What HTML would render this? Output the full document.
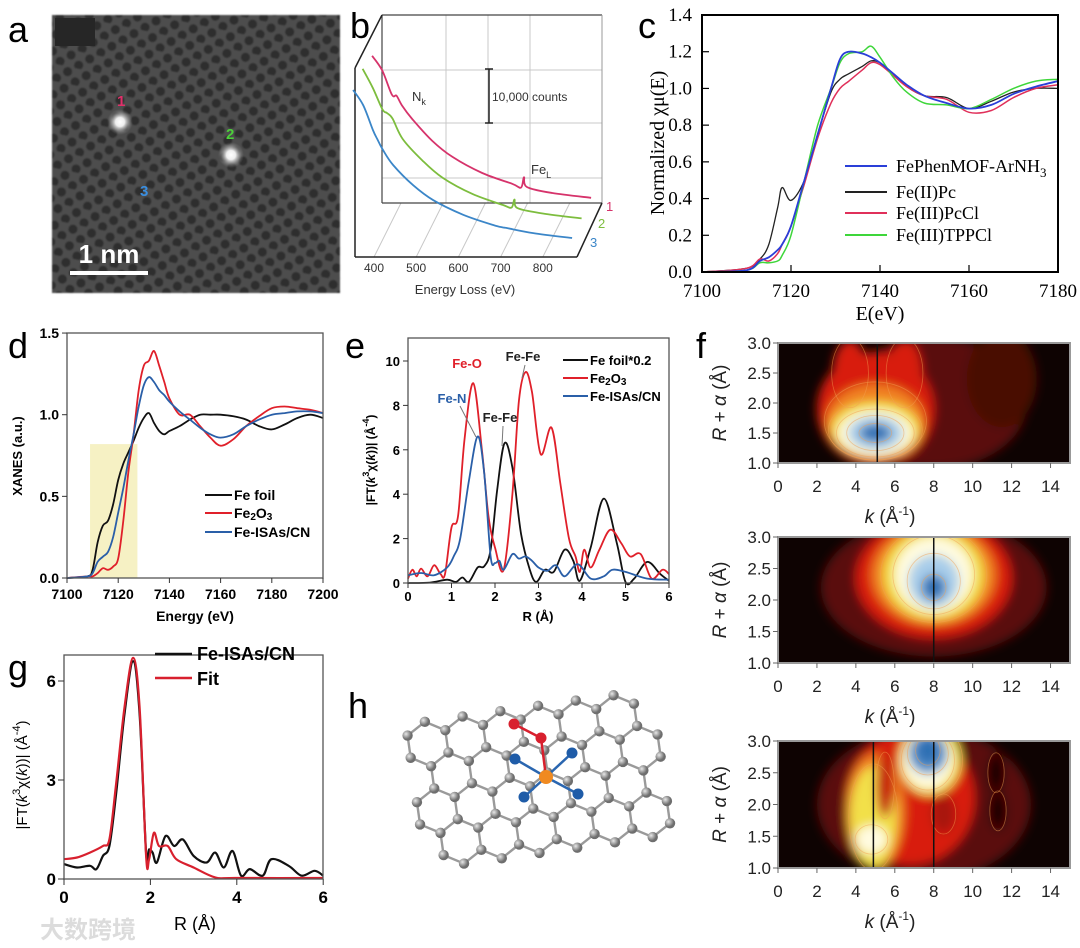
<!DOCTYPE html>
<html><head><meta charset="utf-8">
<style>body{margin:0;background:#fff}svg{display:block}</style>
</head><body>
<svg id="fig" width="1080" height="948" viewBox="0 0 1080 948" xmlns="http://www.w3.org/2000/svg">
<defs>
<pattern id="lat" width="19" height="17" patternUnits="userSpaceOnUse" patternTransform="rotate(12)">
<rect width="19" height="17" fill="#4e4e4e"/>
<circle cx="5" cy="5" r="4.6" fill="#2e2e2e"/>
<circle cx="14.5" cy="13.5" r="4.6" fill="#2e2e2e"/>
</pattern>
<radialGradient id="spot"><stop offset="0" stop-color="#fff"/><stop offset="0.35" stop-color="#eee"/><stop offset="1" stop-color="#888" stop-opacity="0"/></radialGradient>
<radialGradient id="atomG" cx="0.35" cy="0.35"><stop offset="0" stop-color="#e8e8e8"/><stop offset="1" stop-color="#6e6e6e"/></radialGradient>
<filter id="blur" x="-50%" y="-50%" width="200%" height="200%"><feGaussianBlur stdDeviation="5"/></filter>
<filter id="soft"><feGaussianBlur stdDeviation="0.8"/></filter>
</defs>
</svg>
<script>
// ---------- DATA ----------
// panel b (EELS)
const bEnergy = [367, 391, 414, 425, 438, 462, 509, 557, 628, 699, 720, 727, 734, 794, 886];
const bRed    = [26700, 24000, 19500, 19300, 17500, 15000, 11000, 8000, 5000, 3000, 2300, 4200, 2400, 1300, 400];
const bGreen  = [28000, 24500, 20500, 19800, 18800, 15000, 11000, 7800, 4800, 2800, 2300, 3800, 2200, 1200, 300];
const bBlue   = [27400, 24600, 20000, 18200, 16300, 13500, 9800, 7000, 4300, 2400, 2000, 1900, 1800, 900, 0];
const bTicks  = [400, 500, 600, 700, 800];
// panel c (XANES)
const cEnergy = [7100,7110,7113,7115,7117,7118,7120,7123,7126,7129,7131,7133,7136,7138,7140,7143,7146,7150,7155,7160,7165,7170,7175,7180];
const cBlue   = [0,0.01,0.06,0.08,0.12,0.15,0.25,0.5,0.75,1.0,1.16,1.2,1.19,1.17,1.14,1.08,1.02,0.96,0.92,0.89,0.91,0.97,1.01,1.04];
const cBlack  = [0,0.02,0.07,0.15,0.35,0.46,0.39,0.5,0.75,0.98,1.05,1.08,1.12,1.15,1.14,1.08,1.01,0.96,0.95,0.89,0.93,0.98,1.0,1.0];
const cRed    = [0,0.02,0.07,0.06,0.1,0.15,0.25,0.48,0.73,0.92,1.0,1.04,1.1,1.14,1.13,1.07,1.01,0.96,0.94,0.87,0.88,0.95,1.0,1.02];
const cGreen  = [0,0.01,0.05,0.05,0.06,0.09,0.2,0.5,0.8,1.0,1.14,1.19,1.2,1.23,1.17,1.06,0.98,0.92,0.91,0.89,0.94,1.0,1.04,1.05];
const cXTicks = [7100, 7120, 7140, 7160, 7180];
const cYTicks = [0, 0.2, 0.4, 0.6, 0.8, 1.0, 1.2, 1.4];
// panel d
const dEnergy = [7100,7108,7110,7112,7114,7116,7118,7120,7122,7124,7126,7128,7130,7132,7134,7136,7138,7140,7144,7148,7152,7156,7160,7165,7170,7175,7180,7185,7190,7195,7200];
const dFoil   = [0,0.01,0.05,0.22,0.32,0.35,0.45,0.6,0.7,0.77,0.84,0.92,0.98,1.01,0.95,0.9,0.88,0.9,0.93,0.97,1.0,1.0,1.0,0.99,0.97,0.93,0.91,0.94,0.98,1.0,0.98];
const dFe2O3  = [0,0.01,0.01,0.03,0.06,0.05,0.07,0.12,0.35,0.65,0.88,1.15,1.3,1.33,1.39,1.3,1.2,1.1,1.0,1.0,0.93,0.86,0.81,0.85,0.93,0.99,1.04,1.05,1.04,1.03,1.01];
const dISA    = [0,0.01,0.03,0.1,0.13,0.16,0.25,0.4,0.55,0.72,0.88,1.05,1.18,1.23,1.2,1.15,1.12,1.08,1.02,0.97,0.92,0.88,0.86,0.88,0.93,0.97,1.0,1.01,1.02,1.02,1.01];
const dXTicks = [7100, 7120, 7140, 7160, 7180, 7200];
const dYTicks = [0, 0.5, 1.0, 1.5];
// panel e
const eFoilR  = [0,0.5,0.9,1.1,1.25,1.4,1.6,1.75,1.9,2.05,2.22,2.4,2.6,2.8,2.95,3.15,3.35,3.6,3.8,3.95,4.2,4.5,4.8,5.0,5.2,5.5,5.8,6.0];
const eFoil   = [0,0.02,0.15,0.05,0.25,0.05,0.7,0.75,1.5,4.2,6.3,5.2,2.2,0.6,0.05,0.6,0.5,1.5,1.0,0.1,1.6,3.8,1.8,0.05,0.2,0.95,0.4,0.1];
const eOxR    = [0,0.1,0.2,0.3,0.45,0.6,0.75,0.85,1.0,1.15,1.3,1.5,1.7,1.85,2.0,2.2,2.4,2.55,2.7,2.85,3.05,3.3,3.5,3.7,3.85,3.95,4.05,4.2,4.4,4.65,4.9,5.1,5.35,5.6,5.85,6.0];
const eOx     = [0.2,0.6,0.3,0.65,0.3,0.8,0.4,0.4,2.5,3.0,6.5,9.0,6.0,3.0,1.6,0.6,4.0,8.2,9.5,8.6,5.8,7.0,4.5,2.0,1.2,0.5,1.5,0.7,1.5,2.4,1.8,1.2,1.3,0.2,0.6,0.4];
const eIsaR   = [0,0.3,0.6,0.9,1.05,1.2,1.4,1.6,1.75,1.9,2.0,2.1,2.2,2.4,2.55,2.7,2.85,3.0,3.2,3.4,3.6,3.9,4.2,4.5,4.7,5.0,5.5,6.0];
const eIsa    = [0.35,0.45,0.35,0.7,1.2,2.0,4.6,6.6,5.0,1.2,0.9,1.0,0.6,1.3,1.1,1.2,1.0,0.7,0.55,0.8,0.3,0.85,0.2,0.3,0.6,0.5,0.2,0.15];
const eXTicks = [0,1,2,3,4,5,6];
const eYTicks = [0,2,4,6,8,10];
// panel g
const gIsaR   = [0,0.3,0.6,0.75,0.9,1.05,1.2,1.4,1.6,1.75,1.9,1.97,2.05,2.15,2.35,2.55,2.75,3.0,3.3,3.5,3.7,3.9,4.1,4.3,4.6,4.8,5.2,5.5,5.8,6.0];
const gIsa    = [0.45,0.35,0.4,0.3,0.7,1.0,2.5,5.0,6.6,5.0,0.8,0.9,0.8,0.5,1.3,1.0,1.2,0.7,0.5,0.8,0.35,0.85,0.1,0.3,0.1,0.6,0.4,0.1,0.25,0.1];
const gFitR   = [0,0.3,0.6,0.9,1.05,1.2,1.4,1.6,1.75,1.9,1.97,2.08,2.2,2.4,2.6,3.0,3.5,4.0,6.0];
const gFit    = [0.6,0.65,0.8,1.0,1.2,2.8,5.2,6.7,5.2,0.7,0.6,1.4,1.0,1.0,0.6,0.35,0.05,0.03,0.03];
const gXTicks = [0,2,4,6];
const gYTicks = [0,3,6];
// panel f heatmaps
const fKTicks = [0,2,4,6,8,10,12,14];
const fRTicks = [1.0,1.5,2.0,2.5,3.0];
// blobs: k, R, radius-k, radius-R, colour
const f1Blobs = [[8,2.0,4.8,1.1,'#5a0c08'],[11.5,2.4,1.8,0.8,'#4a0906'],[5,1.9,3.0,0.95,'#d81a10'],[3.7,2.5,0.9,0.55,'#d81a10'],[6.5,2.5,0.9,0.55,'#d81a10'],[5,1.7,2.5,0.62,'#f08020'],[5,1.55,2.3,0.48,'#f2e04a'],[5,1.5,1.9,0.38,'#fffbe0'],[5,1.5,1.4,0.28,'#a8cdea'],[5,1.5,0.8,0.15,'#2d6fb4']];
const f2Blobs = [[8,2.2,5.8,1.1,'#5a0c08'],[8,2.35,4.0,0.95,'#d81a10'],[8,2.4,3.2,0.8,'#f08020'],[8,2.4,2.6,0.72,'#f2e04a'],[8,2.4,2.0,0.6,'#fffbe0'],[8,2.3,1.3,0.42,'#a8cdea'],[8,2.2,0.6,0.2,'#2d6fb4']];
const f3Blobs = [[7.5,2.0,5.5,1.2,'#5a0c08'],[6.8,2.1,3.3,1.05,'#d81a10'],[5,1.9,1.5,0.9,'#f08020'],[4.9,1.8,1.2,0.8,'#f2e04a'],[4.8,1.45,0.8,0.22,'#fffbe0'],[7.8,2.7,1.6,0.55,'#f2e04a'],[7.7,2.7,1.3,0.45,'#fffbe0'],[7.7,2.8,1.0,0.32,'#5d97cf'],[7.7,2.85,0.6,0.22,'#2d6fb4'],[5.5,2.3,0.45,0.5,'#c41a10'],[8.5,1.85,0.6,0.3,'#a8180c'],[11.2,2.5,0.4,0.3,'#150302'],[11.3,1.9,0.4,0.3,'#150302']];

// ---------- helpers ----------
const NS = 'http://www.w3.org/2000/svg';
const svg = document.getElementById('fig');
function mk(tag, attrs, parent){
  const e = document.createElementNS(NS, tag);
  for (const k in attrs) e.setAttribute(k, attrs[k]);
  (parent || svg).appendChild(e);
  return e;
}
const SANS = '"Liberation Sans", Arial, sans-serif';
const SERIF = '"Liberation Serif", "Times New Roman", serif';
function T(x, y, html, size, opt, name){
  opt = opt || {};
  const e = mk('text', {x:x, y:y, 'font-size':size, 'font-family':opt.font||SANS, fill:opt.fill||'#000', 'text-anchor':opt.anchor||'start', 'font-weight':opt.weight||'normal'}, opt.parent);
  if (opt.rot) e.setAttribute('transform', 'rotate(' + opt.rot + ' ' + x + ' ' + y + ')');
  e.innerHTML = html;
  
  
  return e;
}
function smooth(pts){
  let d = 'M' + pts[0][0].toFixed(1) + ',' + pts[0][1].toFixed(1);
  for (let i = 0; i < pts.length - 1; i++){
    const p0 = pts[i-1] || pts[i], p1 = pts[i], p2 = pts[i+1], p3 = pts[i+2] || p2;
    const c1 = [p1[0] + (p2[0]-p0[0])/6, p1[1] + (p2[1]-p0[1])/6];
    const c2 = [p2[0] - (p3[0]-p1[0])/6, p2[1] - (p3[1]-p1[1])/6];
    d += 'C' + c1[0].toFixed(1) + ',' + c1[1].toFixed(1) + ' ' + c2[0].toFixed(1) + ',' + c2[1].toFixed(1) + ' ' + p2[0].toFixed(1) + ',' + p2[1].toFixed(1);
  }
  return d;
}
function series(xs, ys, sx, sy, color, w, name){
  const pts = xs.map((x, i) => [sx(x), sy(ys[i])]);
  const p = mk('path', {d:smooth(pts), fill:'none', stroke:color, 'stroke-width':w, 'stroke-linejoin':'round'});
  
  
  return p;
}
function line(x1, y1, x2, y2, color, w, name){
  const l = mk('line', {x1:x1, y1:y1, x2:x2, y2:y2, stroke:color, 'stroke-width':w});
  
  
  return l;
}
function box(x, y, w, h, color, sw, name){
  const r = mk('rect', {x:x, y:y, width:w, height:h, fill:'none', stroke:color, 'stroke-width':sw});
  
  
  return r;
}

// ---------- panel labels ----------
[['a',8,42],['b',350,38],['c',638,38],['d',8,358],['e',345,358],['f',696,358],['g',8,680],['h',348,718]].forEach(l => {
  T(l[1], l[2], l[0], 36, {}, 'panel-label-' + l[0]);
});

// ---------- panel a : STEM image ----------
const aBg = mk('rect', {x:52, y:15, width:288, height:278, fill:'url(#lat)', filter:'url(#soft)'});


const aDark = mk('rect', {x:55, y:18, width:40, height:28, fill:'#262626'});


[[120,122],[231,155]].forEach((s, i) => {
  const c = mk('circle', {cx:s[0], cy:s[1], r:13, fill:'url(#spot)'});
  
  
});
T(117, 106, '1', 15, {fill:'#e0306a', weight:'bold'}, 'atom-label-1');
T(226, 139, '2', 15, {fill:'#4ccf3a', weight:'bold'}, 'atom-label-2');
T(140, 196, '3', 15, {fill:'#3a8ee0', weight:'bold'}, 'atom-label-3');
line(70, 273, 148, 273, '#fff', 4, 'scale-bar');
T(109, 263, '1 nm', 26, {fill:'#fff', weight:'bold', anchor:'middle'}, 'scale-bar-label');

// ---------- panel b : EELS ----------
const bFront = E => 374 + (E - 400) * 0.422;
const bDx = [19, 9.5, 0], bBase = [200, 220, 238];
[70, 123, 178].forEach((y, i) => line(382, y, 602, y, '#c8c8c8', 1, 'b-grid-h-' + i));
[446, 488, 530].forEach((x, i) => line(x, 15, x, 203, '#c8c8c8', 1, 'b-grid-v-' + i));
bTicks.forEach((E, i) => line(bFront(E), 257, bFront(E) + 27, 203, '#c8c8c8', 1, 'b-grid-diag-' + i));
line(382, 15, 602, 15, '#444', 1.2, 'b-top-edge');
line(602, 15, 602, 203, '#999', 1, 'b-right-back-edge');
line(382, 15, 382, 203, '#444', 1.2, 'b-left-back-edge');
line(382, 203, 602, 203, '#444', 1.2, 'b-back-bottom-edge');
line(355, 68, 382, 15, '#222', 1.5, 'b-top-diagonal');
line(355, 68, 355, 257, '#222', 1.5, 'b-front-left-edge');
line(355, 257, 577, 257, '#222', 1.5, 'b-front-bottom-edge');
line(577, 257, 602, 203, '#222', 1.5, 'b-right-diagonal');
const bSeries = [bRed, bGreen, bBlue], bCols = ['#d6336b', '#7dbd3e', '#3b86c8'];
bSeries.forEach((vals, s) => {
  series(bEnergy, vals, E => bFront(E) - 7 + bDx[s], v => bBase[s] - v * 0.0054, bCols[s], 1.8, 'eels-spectrum-' + (s+1));
});
line(489, 69, 489, 123, '#222', 1.5, 'counts-scale-bar');
line(485, 69, 493, 69, '#222', 1.5, 'counts-scale-cap-top');
line(485, 123, 493, 123, '#222', 1.5, 'counts-scale-cap-bottom');
T(492, 101, '10,000 counts', 12, {fill:'#333'}, 'counts-scale-label');
T(412, 101, 'N<tspan font-size="9" dy="4">k</tspan>', 13, {fill:'#333'}, 'n-k-edge-label');
T(531, 174, 'Fe<tspan font-size="9" dy="4">L</tspan>', 13, {fill:'#333'}, 'fe-l-edge-label');
T(606, 211, '1', 13, {fill:bCols[0]}, 'spectrum-label-1');
T(598, 228, '2', 13, {fill:bCols[1]}, 'spectrum-label-2');
T(590, 247, '3', 13, {fill:bCols[2]}, 'spectrum-label-3');
bTicks.forEach(E => T(bFront(E), 272, String(E), 12, {anchor:'middle', fill:'#333'}, 'b-x-tick-' + E));
T(465, 294, 'Energy Loss (eV)', 13, {anchor:'middle', fill:'#333'}, 'b-x-axis-title');

// ---------- panel c ----------
const cx = x => 702 + (x - 7100) * (356/80), cy = y => 272 - y * (257/1.4);
series(cEnergy, cBlack, cx, cy, '#222', 1.3, 'c-line-fe-ii-pc');
series(cEnergy, cRed, cx, cy, '#e0305a', 1.5, 'c-line-fe-iii-pccl');
series(cEnergy, cGreen, cx, cy, '#3ed63a', 1.5, 'c-line-fe-iii-tppcl');
series(cEnergy, cBlue, cx, cy, '#2a3fd8', 1.8, 'c-line-fephenmof');
box(702, 15, 356, 257, '#000', 2, 'c-plot-frame');
cYTicks.forEach(v => { line(702, cy(v), 709, cy(v), '#000', 1.2, 'c-y-tickmark'); T(692, cy(v) + 6, v.toFixed(1), 19, {anchor:'end', font:SERIF}, 'c-y-tick-' + v); });
cXTicks.forEach(v => { line(cx(v), 272, cx(v), 265, '#000', 1.2, 'c-x-tickmark'); T(cx(v), 297, String(v), 19, {anchor:'middle', font:SERIF}, 'c-x-tick-' + v); });
T(880, 320, 'E(eV)', 20, {anchor:'middle', font:SERIF}, 'c-x-axis-title');
T(664, 143, 'Normalized χμ(E)', 20, {anchor:'middle', font:SERIF, rot:-90}, 'c-y-axis-title');
[['FePhenMOF-ArNH<tspan font-size="13" dy="5">3</tspan>','#2a3fd8',166,'legend-fephenmof'],['Fe(II)Pc','#222',192,'legend-fe-ii-pc'],['Fe(III)PcCl','#e0305a',213,'legend-fe-iii-pccl'],['Fe(III)TPPCl','#3ed63a',235,'legend-fe-iii-tppcl']].forEach(l => {
  line(845, l[2], 887, l[2], l[1], 2, l[3] + '-swatch');
  T(896, l[2] + 6, l[0], 18, {font:SERIF}, l[3]);
});

// ---------- panel d ----------
const dx = x => 67 + (x - 7100) * 2.56, dy = y => 578 - y * 163.3;
const hl = mk('rect', {x:dx(7109), y:dy(0.82), width:dx(7127.5)-dx(7109), height:dy(0)-dy(0.82), fill:'#f6f1c4'});


series(dEnergy, dFoil, dx, dy, '#111', 1.8, 'd-line-fe-foil');
series(dEnergy, dFe2O3, dx, dy, '#e0202a', 1.8, 'd-line-fe2o3');
series(dEnergy, dISA, dx, dy, '#2a5fa8', 1.8, 'd-line-fe-isas');
box(67, 333, 256, 245, '#555', 1.3, 'd-plot-frame');
dYTicks.forEach(v => { line(62, dy(v), 67, dy(v), '#333', 1, 'd-y-tickmark'); T(59, dy(v) + 5, v.toFixed(1), 14, {anchor:'end', weight:'bold'}, 'd-y-tick-' + v); });
dXTicks.forEach(v => { line(dx(v), 578, dx(v), 583, '#333', 1, 'd-x-tickmark'); T(dx(v), 599, String(v), 14, {anchor:'middle', weight:'bold'}, 'd-x-tick-' + v); });
T(195, 621, 'Energy (eV)', 14, {anchor:'middle', weight:'bold'}, 'd-x-axis-title');
T(22, 456, 'XANES (a.u.)', 13, {anchor:'middle', weight:'bold', rot:-90}, 'd-y-axis-title');
[['Fe foil','#111',495,'legend-fe-foil'],['Fe<tspan font-size="10" dy="2">2</tspan><tspan dy="-2">O</tspan><tspan font-size="10" dy="2">3</tspan>','#e0202a',513,'legend-fe2o3'],['Fe-ISAs/CN','#2a5fa8',532,'legend-fe-isas']].forEach(l => {
  line(205, l[2], 232, l[2], l[1], 2, l[3] + '-swatch');
  T(234, l[2] + 5, l[0], 14, {weight:'bold'}, l[3]);
});

// ---------- panel e ----------
const ex = r => 408 + r * 43.5, ey = v => 583 - v * 22.2;
series(eFoilR, eFoil, ex, ey, '#111', 1.8, 'e-line-fe-foil');
series(eOxR, eOx, ex, ey, '#e0202a', 1.8, 'e-line-fe2o3');
series(eIsaR, eIsa, ex, ey, '#2a5fa8', 1.8, 'e-line-fe-isas');
box(408, 338, 261, 245, '#555', 1.3, 'e-plot-frame');
eYTicks.forEach(v => { line(403, ey(v), 408, ey(v), '#333', 1, 'e-y-tickmark'); T(400, ey(v) + 5, String(v), 13, {anchor:'end', weight:'bold'}, 'e-y-tick-' + v); });
eXTicks.forEach(v => { line(ex(v), 583, ex(v), 588, '#333', 1, 'e-x-tickmark'); T(ex(v), 601, String(v), 13, {anchor:'middle', weight:'bold'}, 'e-x-tick-' + v); });
T(538, 621, 'R (Å)', 13, {anchor:'middle', weight:'bold'}, 'e-x-axis-title');
T(375, 460, '|FT(<tspan font-style="italic">k</tspan><tspan font-size="9" dy="-6">3</tspan><tspan dy="6">χ(</tspan><tspan font-style="italic">k</tspan>))| (Å<tspan font-size="9" dy="-6">-4</tspan><tspan dy="6">)</tspan>', 12, {anchor:'middle', weight:'bold', rot:-90}, 'e-y-axis-title');
T(467, 368, 'Fe-O', 13, {anchor:'middle', weight:'bold', fill:'#e0202a'}, 'annotation-fe-o');
T(523, 361, 'Fe-Fe', 13, {anchor:'middle', weight:'bold', fill:'#222'}, 'annotation-fe-fe-oxide');
T(452, 403, 'Fe-N', 13, {anchor:'middle', weight:'bold', fill:'#2a5fa8'}, 'annotation-fe-n');
T(500, 422, 'Fe-Fe', 13, {anchor:'middle', weight:'bold', fill:'#222'}, 'annotation-fe-fe-foil');
line(460, 406, 476, 437, '#777', 1, 'annotation-fe-n-pointer');
line(503, 426, 502, 446, '#777', 1, 'annotation-fe-fe-pointer');
line(525, 365, 522, 378, '#777', 1, 'annotation-fe-fe-top-pointer');
[['Fe foil*0.2','#111',360,'legend-e-fe-foil'],['Fe<tspan font-size="10" dy="2">2</tspan><tspan dy="-2">O</tspan><tspan font-size="10" dy="2">3</tspan>','#e0202a',378,'legend-e-fe2o3'],['Fe-ISAs/CN','#2a5fa8',396,'legend-e-fe-isas']].forEach(l => {
  line(563, l[2], 588, l[2], l[1], 2, l[3] + '-swatch');
  T(590, l[2] + 5, l[0], 13, {weight:'bold'}, l[3]);
});

// ---------- panel g ----------
const gx = r => 64 + r * 43.2, gy = v => 879 - v * 33;
series(gIsaR, gIsa, gx, gy, '#111', 2.2, 'g-line-fe-isas');
series(gFitR, gFit, gx, gy, '#d8202e', 2.2, 'g-line-fit');
box(64, 655, 259, 224, '#555', 1.3, 'g-plot-frame');
gYTicks.forEach(v => { line(58, gy(v), 64, gy(v), '#333', 1, 'g-y-tickmark'); T(56, gy(v) + 6, String(v), 17, {anchor:'end', weight:'bold'}, 'g-y-tick-' + v); });
gXTicks.forEach(v => { line(gx(v), 879, gx(v), 885, '#333', 1, 'g-x-tickmark'); T(gx(v), 903, String(v), 17, {anchor:'middle', weight:'bold'}, 'g-x-tick-' + v); });
T(195, 930, 'R (Å)', 18, {anchor:'middle'}, 'g-x-axis-title');
T(27, 775, '|FT(<tspan font-style="italic">k</tspan><tspan font-size="11" dy="-7">3</tspan><tspan dy="7">χ(</tspan><tspan font-style="italic">k</tspan>))| (Å<tspan font-size="11" dy="-7">-4</tspan><tspan dy="7">)</tspan>', 15, {anchor:'middle', rot:-90}, 'g-y-axis-title');
line(155, 654, 192, 654, '#111', 2.5, 'legend-g-fe-isas-swatch');
T(197, 660, 'Fe-ISAs/CN', 18, {weight:'bold'}, 'legend-g-fe-isas');
line(155, 678, 192, 678, '#d8202e', 2.5, 'legend-g-fit-swatch');
T(197, 685, 'Fit', 18, {weight:'bold'}, 'legend-g-fit');
T(40, 938, '大数跨境', 24, {font:'"Liberation Sans", "Noto Sans CJK SC", sans-serif', fill:'#dcdcdc', weight:'bold'}, 'watermark');

// ---------- panel f : wavelet heatmaps ----------
function heat(y0, y1, blobs, vlines, idx){
  const X0 = 778, X1 = 1070;
  const kx = k => X0 + k * (X1 - X0) / 15;
  const ry = r => y1 - (r - 1) * (y1 - y0) / 2;
  const g = mk('g', {});
  
  
  const cp = mk('clipPath', {id:'clip' + idx}, g);
  mk('rect', {x:X0, y:y0, width:X1 - X0, height:y1 - y0}, cp);
  const inner = mk('g', {'clip-path':'url(#clip' + idx + ')'}, g);
  const bg = mk('rect', {x:X0, y:y0, width:X1 - X0, height:y1 - y0, fill:'#0e0302'}, inner);
  
  
  const bl = mk('g', {filter:'url(#blur)'}, inner);
  blobs.forEach(b => {
    const e = mk('ellipse', {cx:kx(b[0]), cy:ry(b[1]), rx:b[2] * (X1 - X0) / 15, ry:b[3] * (y1 - y0) / 2, fill:b[4]}, bl);
    
    
  });
  blobs.slice(3).forEach(b => {
    const c = mk('ellipse', {cx:kx(b[0]), cy:ry(b[1]), rx:b[2] * (X1 - X0) / 15 * 1.05, ry:b[3] * (y1 - y0) / 2 * 1.05, fill:'none', stroke:'#f4a050', 'stroke-width':0.8, opacity:0.5}, inner);
    
    
  });
  vlines.forEach(k => {
    const l = mk('line', {x1:kx(k), y1:y0, x2:kx(k), y2:y1, stroke:'#111', 'stroke-width':1.5}, inner);
    
    
  });
  const fr = mk('rect', {x:X0, y:y0, width:X1 - X0, height:y1 - y0, fill:'none', stroke:'#999', 'stroke-width':2}, g);
  
  
  fRTicks.forEach(r => { line(X0 - 5, ry(r), X0, ry(r), '#666', 1, 'f-y-tickmark'); T(X0 - 7, ry(r) + 6, r.toFixed(1), 17, {anchor:'end', fill:'#222'}, 'f' + idx + '-y-tick-' + r); });
  fKTicks.forEach(k => { line(kx(k), y1, kx(k), y1 + 5, '#666', 1, 'f-x-tickmark'); T(kx(k), y1 + 29, String(k), 17, {anchor:'middle', fill:'#222'}, 'f' + idx + '-x-tick-' + k); });
  T(890, y1 + 60, '<tspan font-style="italic">k</tspan>  (Å<tspan font-size="12" dy="-8">-1</tspan><tspan dy="8">)</tspan>', 19, {anchor:'middle', fill:'#222'}, 'f' + idx + '-x-axis-title');
  T(726, (y0 + y1) / 2, '<tspan font-style="italic">R</tspan> + <tspan font-style="italic">α</tspan> (Å)', 19, {anchor:'middle', fill:'#222', rot:-90}, 'f' + idx + '-y-axis-title');
}
heat(343, 463, f1Blobs, [5.1], 1);
heat(537, 663, f2Blobs, [8.0], 2);
heat(741, 868, f3Blobs, [4.9, 8.0], 3);

// ---------- panel h : structure ----------
(function(){
  const a = 22, s3 = Math.sqrt(3);
  const ang = -8 * Math.PI / 180, sy = 1.02, ox = 428, oy = 744;
  const tf = (x, y) => { y *= sy; return [ox + x * Math.cos(ang) - y * Math.sin(ang), oy + x * Math.sin(ang) + y * Math.cos(ang)]; };
  const atoms = new Map();
  for (let j = 0; j < 4; j++){
    for (let i = 0; i < 6; i++){
      const ii = i - Math.floor(j / 2);
      const cxh = ii * s3 * a + j * s3 * a / 2, cyh = j * 1.5 * a;
      for (let v = 0; v < 6; v++){
        const t = (30 + 60 * v) * Math.PI / 180;
        const x = cxh + a * Math.cos(t), y = cyh + a * Math.sin(t);
        atoms.set(Math.round(x) + ',' + Math.round(y), [x, y]);
      }
    }
  }
  const pts = [...atoms.values()];
  const bg = mk('g', {});
  
  
  for (let p = 0; p < pts.length; p++) for (let q = p + 1; q < pts.length; q++){
    const d = Math.hypot(pts[p][0] - pts[q][0], pts[p][1] - pts[q][1]);
    if (d < a * 1.05){
      const A = tf(pts[p][0], pts[p][1]), B = tf(pts[q][0], pts[q][1]);
      const l = mk('line', {x1:A[0], y1:A[1], x2:B[0], y2:B[1], stroke:'#9a9a9a', 'stroke-width':2.4}, bg);
      
      
    }
  }
  pts.forEach(p => {
    const A = tf(p[0], p[1]);
    const c = mk('circle', {cx:A[0], cy:A[1], r:5.2, fill:'url(#atomG)'}, bg);
    
    
  });
  const fe = [546, 777];
  const ns = [[515, 759], [572, 753], [524, 797], [578, 794]];
  ns.forEach(n => line(fe[0], fe[1], n[0], n[1], '#2a66b0', 2.5, 'fe-n-bond'));
  line(fe[0], fe[1], 541, 738, '#d8202e', 2.5, 'fe-o-bond');
  line(541, 738, 514, 724, '#d8202e', 2.5, 'o-o-bond');
  ns.forEach(n => {
    const c = mk('circle', {cx:n[0], cy:n[1], r:5.5, fill:'#1f5ca8'});
    
    
  });
  [[541, 738], [514, 724]].forEach(o => {
    const c = mk('circle', {cx:o[0], cy:o[1], r:5.5, fill:'#d8202e'});
    
    
  });
  const f = mk('circle', {cx:fe[0], cy:fe[1], r:7, fill:'#f08a20'});
  
  
})();
</script>
</body></html>
